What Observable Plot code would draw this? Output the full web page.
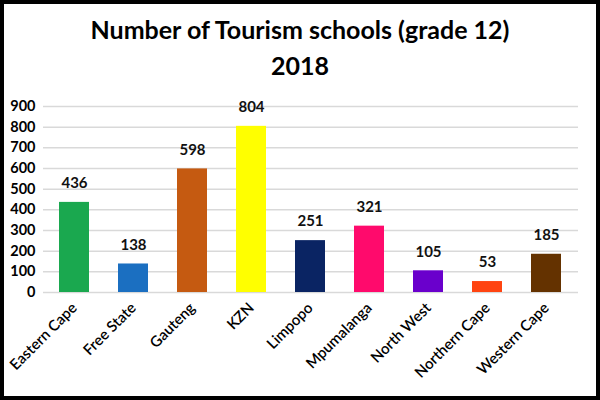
<!DOCTYPE html>
<html>
<head>
<meta charset="utf-8">
<script src="https://cdn.jsdelivr.net/npm/d3@7"></script>
<script src="https://cdn.jsdelivr.net/npm/@observablehq/plot@0.6"></script>
<style>
  html, body { margin: 0; padding: 0; background: #fff; }
  #frame {
    width: 600px; height: 400px; box-sizing: border-box;
    border: 4px solid #000; background: #fff; overflow: hidden;
    font-family: Lato, "Open Sans", sans-serif;
  }
  #title {
    text-align: center; font-weight: bold; font-size: 25px; line-height: 36px;
    color: #000; padding-top: 7px; height: 77px; box-sizing: border-box;
  }
  #chart svg { display: block; }
</style>
</head>
<body>
<div id="frame">
  <div id="title">Number of Tourism schools (grade 12)<br>2018</div>
  <div id="chart"></div>
</div>
<script>
// Grade 12 tourism schools per province, 2018
const provinces = ["Eastern Cape", "Free State", "Gauteng", "KZN", "Limpopo",
                   "Mpumalanga", "North West", "Northern Cape", "Western Cape"];
const schools = [436, 138, 598, 804, 251, 321, 105, 53, 185];
const barColors = ["#1aa84f", "#1b6fc1", "#c55a11", "#ffff00", "#0a2463",
                   "#ff0a6c", "#6a00cc", "#ff4411", "#643200"];
const yTicks = [0, 100, 200, 300, 400, 500, 600, 700, 800, 900];

const rows = provinces.map((p, i) => ({province: p, count: schools[i]}));

const chart = Plot.plot({
  width: 592,
  height: 315,
  marginTop: 25,
  marginLeft: 39,
  marginRight: 18,
  marginBottom: 104,
  style: {fontFamily: "Lato, 'Open Sans', sans-serif", fontSize: "13px", color: "#000"},
  x: {domain: provinces, paddingInner: 0.49, paddingOuter: 0.245, label: null},
  y: {domain: [0, 900], ticks: yTicks, label: null},
  color: {domain: provinces, range: barColors},
  marks: [
    Plot.gridY(yTicks, {stroke: "#d9d9d9", strokeOpacity: 1, strokeWidth: 1.5}),
    Plot.barY(rows, {x: "province", y: "count", fill: "province"}),
    Plot.text(rows, {x: "province", y: "count", text: d => String(d.count),
                     dy: -19, fontWeight: "bold", fontSize: 15, fill: "#111"}),
    Plot.axisY(yTicks, {tickSize: 0, tickPadding: 8, fontWeight: "bold",
                        fontSize: 14.5, label: null}),
    Plot.axisX({tickSize: 0, tickRotate: -45, tickPadding: 13, fontSize: 15,
                fontWeight: 600, label: null})
  ]
});
document.getElementById("chart").appendChild(chart);
</script>
</body>
</html>
